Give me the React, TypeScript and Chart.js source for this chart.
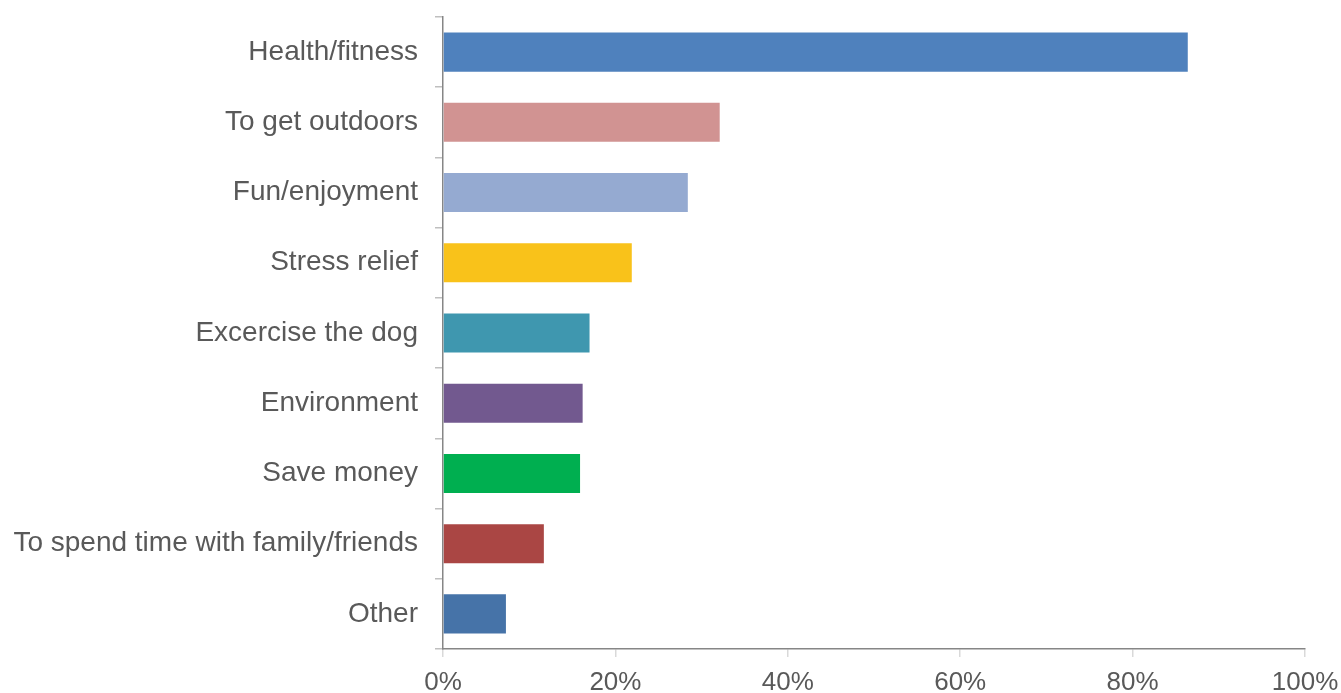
import React, { useEffect, useRef } from "react";
import { Chart, registerables } from "chart.js";

Chart.register(...registerables);

const categories = [
  "Health/fitness",
  "To get outdoors",
  "Fun/enjoyment",
  "Stress relief",
  "Excercise the dog",
  "Environment",
  "Save money",
  "To spend time with family/friends",
  "Other",
];

const values = [86.4, 32.1, 28.4, 21.9, 17.0, 16.2, 15.9, 11.7, 7.3];

const barColors = [
  "#4F81BD",
  "#D19392",
  "#95AAD1",
  "#F9C21A",
  "#3F97AF",
  "#72598F",
  "#00AF50",
  "#AA4644",
  "#4673A8",
];

const xTicks = [0, 20, 40, 60, 80, 100];

export default function App() {
  const ref = useRef<HTMLCanvasElement | null>(null);

  useEffect(() => {
    document.body.style.margin = "0";
    const canvas = ref.current;
    if (!canvas) return;
    const chart = new Chart(canvas, {
      type: "bar",
      data: {
        labels: categories,
        datasets: [
          {
            data: values,
            backgroundColor: barColors,
            borderWidth: 0,
            barPercentage: 0.556,
            categoryPercentage: 1,
          },
        ],
      },
      options: {
        indexAxis: "y",
        responsive: false,
        animation: false,
        maintainAspectRatio: false,
        layout: { padding: { top: 17, right: 36, left: 0, bottom: 0 } },
        plugins: {
          legend: { display: false },
          tooltip: { enabled: false },
        },
        scales: {
          x: {
            min: 0,
            max: 100,
            afterFit: (s: any) => {
              s.height = 44;
              s.paddingLeft = 0;
              s.paddingRight = 0;
              s.paddingTop = 0;
              s.paddingBottom = 0;
            },
            afterBuildTicks: (s: any) => {
              s.ticks = xTicks.map((v) => ({ value: v }));
            },
            border: { color: "#868686", width: 1.5 },
            grid: {
              drawOnChartArea: false,
              drawTicks: true,
              tickLength: 8,
              color: "#D9D9D9",
              lineWidth: 1.5,
            },
            ticks: {
              color: "#595959",
              padding: 10,
              font: { family: "'Liberation Sans', Arial, sans-serif", size: 26 },
              callback: (v: any) => `${v}%`,
              maxRotation: 0,
            },
          },
          y: {
            afterFit: (s: any) => {
              s.width = 443;
              s.paddingLeft = 0;
              s.paddingRight = 0;
              s.paddingTop = 0;
              s.paddingBottom = 0;
            },
            border: { color: "#868686", width: 1.5 },
            grid: {
              offset: true,
              drawOnChartArea: false,
              drawTicks: true,
              tickLength: 8,
              color: "#BFBFBF",
              lineWidth: 1.5,
            },
            ticks: {
              color: "#595959",
              padding: 17,
              font: { family: "'Liberation Sans', Arial, sans-serif", size: 28 },
            },
          },
        },
      },
    });
    return () => chart.destroy();
  }, []);

  return (
    <div style={{ position: "fixed", left: 0, top: 0, width: 1341, height: 693, background: "#fff" }}>
      <canvas ref={ref} width={1341} height={693} style={{ display: "block" }} />
    </div>
  );
}
